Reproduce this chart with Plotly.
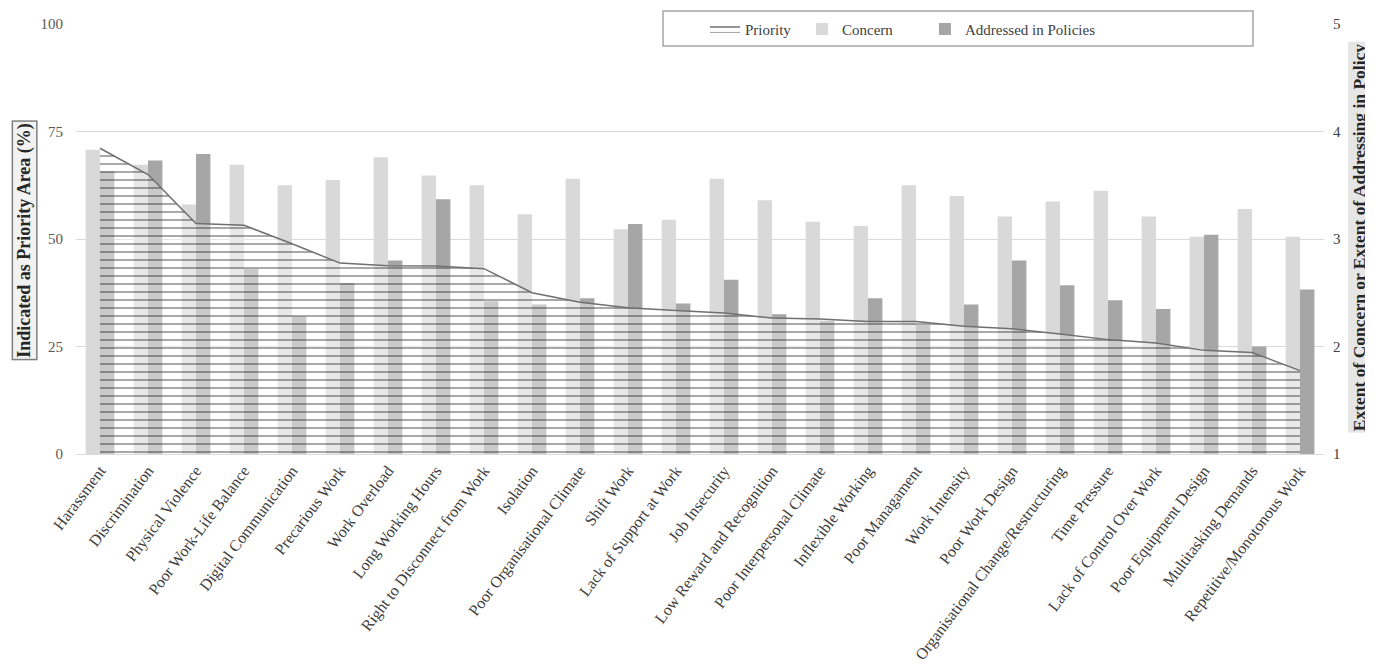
import plotly.graph_objects as go

categories = [
    "Harassment", "Discrimination", "Physical Violence", "Poor Work-Life Balance",
    "Digital Communication", "Precarious Work", "Work Overload", "Long Working Hours",
    "Right to Disconnect from Work", "Isolation", "Poor Organisational Climate",
    "Shift Work", "Lack of Support at Work", "Job Insecurity",
    "Low Reward and Recognition", "Poor Interpersonal Climate", "Inflexible Working",
    "Poor Managament", "Work Intensity", "Poor Work Design",
    "Organisational Change/Restructuring", "Time Pressure", "Lack of Control Over Work",
    "Poor Equipment Design", "Multitasking Demands", "Repetitive/Monotonous Work",
]

# % of respondents indicating the area as priority (left axis)
priority = [71.1, 65.0, 53.6, 53.2, 48.9, 44.4, 43.8, 43.7, 43.1, 37.5, 35.3, 34.0, 33.4,
            32.8, 31.6, 31.4, 30.8, 30.8, 29.7, 29.1, 27.9, 26.6, 25.8, 24.1, 23.6, 19.4]

# extent scores 1-5 (right axis)
concern = [3.83, 3.69, 3.32, 3.69, 3.50, 3.55, 3.76, 3.59, 3.50, 3.23, 3.56, 3.09, 3.18,
           3.56, 3.36, 3.16, 3.12, 3.50, 3.40, 3.21, 3.35, 3.45, 3.21, 3.02, 3.28, 3.02]
addressed = [3.63, 3.73, 3.79, 2.72, 2.28, 2.59, 2.80, 3.37, 2.42, 2.39, 2.45, 3.14, 2.40,
             2.62, 2.30, 2.24, 2.45, 2.20, 2.39, 2.80, 2.57, 2.43, 2.35, 3.04, 2.00, 2.53]

serif = "Liberation Serif, Times New Roman, serif"

fig = go.Figure()

fig.add_trace(go.Bar(
    x=categories, y=concern, name="Concern", yaxis="y",
    marker=dict(color="#d9d9d9", line=dict(width=0)),
    legendrank=2, legendwidth=78,
))
fig.add_trace(go.Bar(
    x=categories, y=addressed, name="Addressed in Policies", yaxis="y",
    marker=dict(color="#a6a6a6", line=dict(width=0)),
    legendrank=3, legendwidth=140,
))
fig.add_trace(go.Scatter(
    x=categories, y=priority, name="Priority", yaxis="y2",
    mode="lines", fill="tozeroy",
    line=dict(color="#6f6f6f", width=1.5),
    fillcolor="rgba(255,255,255,0.35)",
    fillpattern=dict(shape="-", fgcolor="rgba(0,0,0,0.85)",
                     bgcolor="rgba(255,255,255,0.4)", size=8, solidity=0.2),
    legendrank=1, legendwidth=52,
))

# the page body adds an 8px offset, so the figure is 8px smaller than the window
fig.update_layout(
    width=1365, height=660,
    margin=dict(l=68, r=49, t=16, b=214, autoexpand=False),
    plot_bgcolor="white", paper_bgcolor="white",
    font=dict(family=serif, color="#404040"),
    barmode="group", bargap=0.4, bargroupgap=0,
    showlegend=True,
    legend=dict(
        orientation="h", x=0.504, xanchor="left", y=0.988, yanchor="middle",
        bgcolor="rgba(0,0,0,0)", borderwidth=0,
        font=dict(family=serif, size=15, color="#404040"),
        traceorder="normal",
    ),
    xaxis=dict(
        automargin=False,
        tickangle=-53, tickfont=dict(family=serif, size=16, color="#404040"),
        showline=True, linecolor="#d9d9d9", linewidth=1,
        showgrid=False, ticks="",
    ),
    yaxis=dict(
        automargin=False,
        side="right", range=[1, 5], dtick=1, tick0=1,
        showgrid=True, gridcolor="#d9d9d9", gridwidth=1,
        zeroline=False, ticks="", ticklabelstandoff=8,
        tickfont=dict(family=serif, size=15, color="#404040"),
    ),
    yaxis2=dict(
        automargin=False,
        side="left", overlaying="y", range=[0, 100], dtick=25,
        showgrid=False, zeroline=False, ticks="", ticklabelstandoff=12,
        tickfont=dict(family=serif, size=15, color="#595959"),
    ),
    shapes=[dict(
        type="rect", xref="paper", yref="paper",
        x0=0.4704, x1=0.9431, y0=0.9488, y1=1.0302,
        line=dict(color="#a6a6a6", width=1.5), fillcolor="white", layer="above",
    )],
    annotations=[
        dict(
            text="<b>Indicated as Priority Area (%)</b>", textangle=-90,
            xref="paper", yref="paper", x=-0.0413, y=0.498,
            xanchor="center", yanchor="middle", showarrow=False,
            font=dict(family=serif, size=18, color="#262626"),
            bgcolor="#f2f2f2", bordercolor="#7f7f7f", borderwidth=1.5, borderpad=1,
        ),
        dict(
            text="<b>Extent of Concern or Extent of Addressing in Policy</b>", textangle=-90,
            xref="paper", yref="paper", x=1.0283, y=0.505,
            xanchor="center", yanchor="middle", showarrow=False,
            font=dict(family=serif, size=17.5, color="#262626"),
            bgcolor="#e6e6e6", borderpad=1,
        ),
    ],
)

fig.write_html("out.html")
